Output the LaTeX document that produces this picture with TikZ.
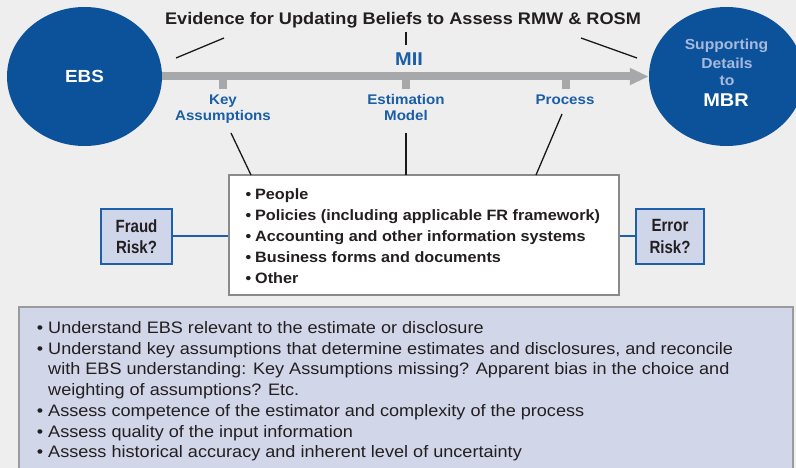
\documentclass[tikz,border=0pt]{standalone}
\usepackage{fontspec}
\setmainfont{Liberation Sans}
\newfontfamily\widefont[FakeStretch=1.08]{Liberation Sans}
\newfontfamily\panelfont[FakeStretch=1.09]{Liberation Sans}
\newfontfamily\condfont[FakeStretch=0.85]{Liberation Sans}
\usetikzlibrary{shapes.geometric,arrows.meta}
\pgfdeclarelayer{bglayer}
\pgfdeclarelayer{barlayer}
\pgfsetlayers{bglayer,barlayer,main}
\definecolor{ebsblue}{RGB}{11,82,155}
\definecolor{labelblue}{RGB}{27,94,166}
\definecolor{lightlab}{RGB}{167,185,221}
\definecolor{bargray}{RGB}{167,168,170}
\definecolor{bggray}{RGB}{238,238,238}
\definecolor{riskfill}{RGB}{208,214,234}
\definecolor{riskborder}{RGB}{30,95,170}
\definecolor{panelfill}{RGB}{209,214,233}
\definecolor{panelborder}{RGB}{155,155,155}
\definecolor{boxborder}{RGB}{138,138,138}
\definecolor{textdark}{RGB}{35,31,32}
\tikzset{
  txt/.style={inner sep=0pt, anchor=base, text=textdark},
  titletxt/.style={txt, font=\widefont\bfseries\fontsize{16.8}{20}\selectfont},
  miitxt/.style={txt, text=labelblue, font=\widefont\bfseries\fontsize{18.5}{20}\selectfont},
  bluelab/.style={txt, text=labelblue, font=\widefont\bfseries\fontsize{14}{16}\selectfont},
  suptxt/.style={txt, text=lightlab, font=\widefont\bfseries\fontsize{14.5}{16}\selectfont},
  mbrtxt/.style={txt, text=white, font=\widefont\bfseries\fontsize{18.5}{20}\selectfont},
  ovalnode/.style={ellipse, fill=ebsblue, minimum width=155pt, minimum height=139pt, inner sep=0pt,
     text=white, font=\widefont\bfseries\fontsize{17.5}{20}\selectfont},
  barline/.style={line width=8pt, draw=bargray, -{Triangle[length=19pt,width=16pt]}},
  thinline/.style={line width=1.3pt, draw=black!90},
  mainbox/.style={rectangle, draw=boxborder, line width=2pt, fill=white, minimum width=390pt, minimum height=120pt, inner sep=0pt},
  boxtxt/.style={txt, anchor=base west, font=\widefont\bfseries\fontsize{15}{18}\selectfont},
  riskbox/.style={rectangle, draw=riskborder, line width=1.6pt, fill=riskfill, minimum height=55pt, inner sep=0pt,
     align=center, text=textdark, font=\condfont\bfseries\fontsize{17.7}{21.5}\selectfont},
  blueconn/.style={line width=2pt, draw=riskborder},
  panelbox/.style={rectangle, draw=panelborder, line width=2pt, fill=panelfill, minimum width=774pt, minimum height=165pt, inner sep=0pt},
  paneltxt/.style={txt, anchor=base west, font=\panelfont\fontsize{16.6}{20}\selectfont},
}
\begin{document}
\begin{tikzpicture}[x=1pt,y=-1pt]
\begin{pgfonlayer}{bglayer}
\fill[bggray] (0,0) rectangle (796,468);
\end{pgfonlayer}
\useasboundingbox (0,0) rectangle (796,468);
\clip (0,0) rectangle (796,468);

% ovals
\node[ovalnode] (ebs) at (84.5,76.5) {EBS};
\node[ovalnode] (mbr) at (726.5,76.5) {};
\node[suptxt] (sup1) at (726.5,50) {Supporting};
\node[suptxt] (sup2) at (727,69) {Details};
\node[suptxt] (sup3) at (727,86) {to};
\node[mbrtxt] (sup4) at (726,107) {MBR};

% bar
\begin{pgfonlayer}{barlayer}
\draw[barline] (ebs.center) -- (mbr.west);
\end{pgfonlayer}
\fill[bargray] (219,80) rectangle (227,89);
\fill[bargray] (402,80) rectangle (410,89);
\fill[bargray] (562,80) rectangle (570,89);

% title and lines
\node[titletxt] (title) at (403,25) {Evidence for Updating Beliefs to Assess RMW \& ROSM};
\node[miitxt] (mii) at (409,66) {MII};
\coordinate (ta1) at (176,58); \coordinate (ta2) at (224,38);
\coordinate (tb1) at (406,32); \coordinate (tb2) at (406,45);
\coordinate (tc1) at (581,38); \coordinate (tc2) at (637,58);
\draw[thinline] (ta1) -- (ta2);
\draw[thinline] (tb1) -- (tb2);
\draw[thinline] (tc1) -- (tc2);

% labels
\node[bluelab] (ka1) at (223,105) {Key};
\node[bluelab] (ka2) at (223,120.5) {Assumptions};
\node[bluelab] (em1) at (406,105) {Estimation};
\node[bluelab] (em2) at (406,120.5) {Model};
\node[bluelab] (pr) at (565,105) {Process};

% main box
\node[mainbox] (box) at (424,235) {};
\foreach \t [count=\i] in {People,Policies (including applicable FR framework),Accounting and other information systems,Business forms and documents,Other}
  \node[boxtxt] (bl\i) at (255,{199.5+21*(\i-1)}) {\llap{•\hspace{4pt}}\t};

\coordinate (la1) at (231,133); \coordinate (la2) at (251,175);
\coordinate (lb1) at (406,133); \coordinate (lb2) at (406,175);
\coordinate (lc1) at (562,114); \coordinate (lc2) at (536,175);
\draw[thinline] (la1) -- (la2);
\draw[thinline] (lb1) -- (lb2);
\draw[thinline] (lc1) -- (lc2);

% risk boxes
\node[riskbox, minimum width=71pt] (fraud) at (136.5,236.5) {Fraud\\Risk?};
\node[riskbox, minimum width=68pt] (error) at (670,236.5) {Error\\Risk?};
\draw[blueconn] (fraud.east) -- (fraud.east -| box.west);
\draw[blueconn] (box.east |- error.west) -- (error.west);

% bottom panel
\node[panelbox] (panel) at (406,389.5) {};
\node[paneltxt] (p1) at (48,333) {\llap{•\hspace{5pt}}Understand EBS relevant to the estimate or disclosure};
\node[paneltxt] (p2) at (48,354) {\llap{•\hspace{5pt}}Understand key assumptions that determine estimates and disclosures, and reconcile};
\node[paneltxt] (p3) at (48,374.5) {with EBS understanding: Key Assumptions missing? Apparent bias in the choice and};
\node[paneltxt] (p4) at (48,395) {weighting of assumptions? Etc.};
\node[paneltxt] (p5) at (48,416) {\llap{•\hspace{5pt}}Assess competence of the estimator and complexity of the process};
\node[paneltxt] (p6) at (48,437) {\llap{•\hspace{5pt}}Assess quality of the input information};
\node[paneltxt] (p7) at (48,457.5) {\llap{•\hspace{5pt}}Assess historical accuracy and inherent level of uncertainty};
\end{tikzpicture}
\end{document}
